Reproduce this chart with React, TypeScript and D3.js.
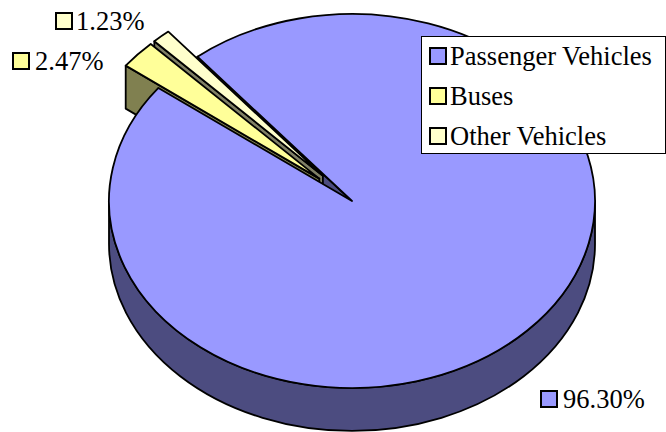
import React from 'react';
import * as d3 from 'd3';

const categories = ['Passenger Vehicles', 'Buses', 'Other Vehicles'];
const values = [96.3, 2.47, 1.23];
const valueLabels = ['96.30%', '2.47%', '1.23%'];
const exploded = [false, true, true];
const topColors = ['#9999FF', '#FFFF99', '#FFFFCC'];
const sideColors = ['#4C4C80', '#808050', '#808066'];

const W = 666;
const H = 432;
const cx = 352;
const cy = 201;
const rx = 243;
const ry = 187;
const depth = 43;
const explodeFrac = 0.18;
const startDeg = -39.5;
const FONT = 'Liberation Serif, Times New Roman, serif';

// label layout (marker top-left, text x, baseline)
const labelLayout = [
  { mx: 541, my: 391, tx: 563, ty: 408 },
  { mx: 13, my: 53, tx: 35, ty: 70 },
  { mx: 56, my: 13, tx: 76, ty: 30 },
];

type P = [number, number];

export default function App() {
  const a0 = (startDeg * Math.PI) / 180;
  const pie = d3
    .pie<number>()
    .sort(null)
    .value((d) => d)
    .startAngle(a0)
    .endAngle(a0 + 2 * Math.PI);
  const arcs = pie(values);

  const pt = (ox: number, oy: number, a: number, dz = 0): P => [
    ox + rx * Math.sin(a),
    oy - ry * Math.cos(a) + dz,
  ];
  const f = (p: P) => `${p[0].toFixed(2)},${p[1].toFixed(2)}`;

  const slices = arcs.map((arc, i) => {
    const mid = (arc.startAngle + arc.endAngle) / 2;
    const ox = exploded[i] ? cx + explodeFrac * rx * Math.sin(mid) : cx;
    const oy = exploded[i] ? cy - explodeFrac * ry * Math.cos(mid) : cy;
    const s = arc.startAngle;
    const e = arc.endAngle;
    const large = e - s > Math.PI ? 1 : 0;
    const top = `M${ox},${oy} L${f(pt(ox, oy, s))} A${rx},${ry} 0 ${large} 1 ${f(pt(ox, oy, e))} Z`;
    const faces: string[] = [];
    if (Math.sin(s) < 0) {
      faces.push(
        `M${ox},${oy} L${f(pt(ox, oy, s))} L${f(pt(ox, oy, s, depth))} L${ox},${oy + depth} Z`
      );
    }
    if (Math.sin(e) > 0) {
      faces.push(
        `M${ox},${oy} L${f(pt(ox, oy, e))} L${f(pt(ox, oy, e, depth))} L${ox},${oy + depth} Z`
      );
    }
    for (let k = -1; k <= 1; k++) {
      const lo = Math.PI / 2 + 2 * Math.PI * k;
      const hi = (3 * Math.PI) / 2 + 2 * Math.PI * k;
      const b0 = Math.max(lo, s);
      const b1 = Math.min(hi, e);
      if (b1 > b0) {
        const lg = b1 - b0 > Math.PI ? 1 : 0;
        faces.push(
          `M${f(pt(ox, oy, b0))} A${rx},${ry} 0 ${lg} 1 ${f(pt(ox, oy, b1))} L${f(
            pt(ox, oy, b1, depth)
          )} A${rx},${ry} 0 ${lg} 0 ${f(pt(ox, oy, b0, depth))} Z`
        );
      }
    }
    return { i, top, faces };
  });

  const sw = 1.8;
  // paint order: main slice sides, exploded sides, exploded tops, main top
  const layers: { i: number; kind: 'side' | 'top' }[] = [
    { i: 0, kind: 'side' },
    { i: 2, kind: 'side' },
    { i: 1, kind: 'side' },
    { i: 2, kind: 'top' },
    { i: 1, kind: 'top' },
    { i: 0, kind: 'top' },
  ];

  return (
    <div style={{ position: 'absolute', left: 0, top: 0 }}>
      <svg width={W} height={H} style={{ display: 'block' }}>
        <rect x={0} y={0} width={W} height={H} fill="#fff" />
        {layers.map((L, k) => {
          const sl = slices[L.i];
          if (L.kind === 'side') {
            return (
              <g key={k}>
                {sl.faces.map((d, j) => (
                  <path key={j} d={d} fill={sideColors[L.i]} stroke="#000" strokeWidth={sw} strokeLinejoin="round" />
                ))}
              </g>
            );
          }
          return (
            <path key={k} d={sl.top} fill={topColors[L.i]} stroke="#000" strokeWidth={sw} strokeLinejoin="round" />
          );
        })}
        {valueLabels.map((lab, i) => {
          const L = labelLayout[i];
          return (
            <g key={'l' + i}>
              <rect x={L.mx} y={L.my} width={16} height={16} fill={topColors[i]} stroke="#000" strokeWidth={2} />
              <text x={L.tx} y={L.ty} fontFamily={FONT} fontSize={26.5} fill="#000">
                {lab}
              </text>
            </g>
          );
        })}
        <rect x={421.5} y={36.5} width={244} height={117} fill="#fff" stroke="#000" strokeWidth={1} />
        {categories.map((c, i) => (
          <g key={'g' + i}>
            <rect x={430} y={48 + i * 40} width={16} height={16} fill={topColors[i]} stroke="#000" strokeWidth={2} />
            <text x={450} y={65 + i * 40} fontFamily={FONT} fontSize={26.5} fill="#000">
              {c}
            </text>
          </g>
        ))}
      </svg>
    </div>
  );
}
